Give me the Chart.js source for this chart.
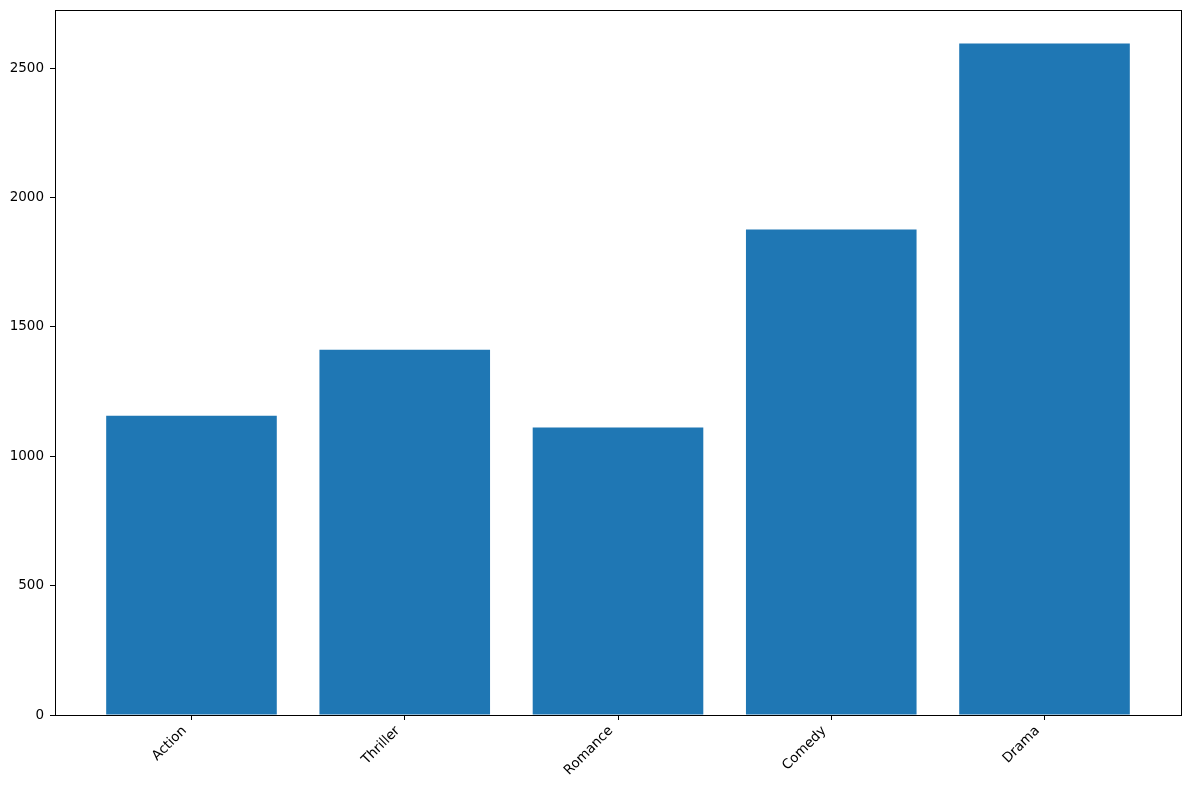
<!DOCTYPE html>
<html>
<head>
<meta charset="utf-8">
<script src="https://cdn.jsdelivr.net/npm/chart.js@4/dist/chart.umd.min.js"></script>
<style>
  html, body { margin: 0; padding: 0; background: #fff; }
  canvas { display: block; }
</style>
</head>
<body>
<canvas id="chart" width="1189" height="790"></canvas>
<script>
// genres and counts
var genres = ["Action", "Thriller", "Romance", "Comedy", "Drama"];
var counts = [1157, 1412, 1111, 1876, 2595];
var yTicks = [0, 500, 1000, 1500, 2000, 2500];

var barColor = '#1f77b4';
var font = { family: "'DejaVu Sans', sans-serif", size: 13.5 };

// matplotlib style margins: 5% on the value axis, bars of width 0.8
var yMax = Math.max.apply(null, counts) * 1.05;
var xMin = -0.4 - 0.05 * (genres.length - 1 + 0.8);
var xMax = genres.length - 1 + 0.4 + 0.05 * (genres.length - 1 + 0.8);

var frame = {
    id: 'frame',
    afterDraw: function (chart) {
        var a = chart.chartArea;
        var c = chart.ctx;
        c.save();
        c.strokeStyle = '#000';
        c.lineWidth = 1;
        c.strokeRect(Math.round(a.left) + 0.5, Math.round(a.top) + 0.5,
            Math.round(a.right - a.left), Math.round(a.bottom - a.top));
        c.restore();
    }
};

function noPad(scale) {
    scale.paddingTop = 0;
    scale.paddingBottom = 0;
    scale.paddingLeft = 0;
    scale.paddingRight = 0;
}

var ctx = document.getElementById('chart');
var chart = new Chart(ctx, {
    type: 'bar',
    data: {
        datasets: [{
            data: counts.map(function (v, i) { return { x: i, y: v }; }),
            backgroundColor: barColor,
            borderWidth: 0,
            barPercentage: 0.8,
            categoryPercentage: 1.0
        }]
    },
    options: {
        responsive: false,
        animation: false,
        devicePixelRatio: 1,
        layout: { padding: { top: 10, right: 8, left: 0, bottom: 0 } },
        plugins: {
            legend: { display: false },
            tooltip: { enabled: false }
        },
        scales: {
            x: {
                type: 'linear',
                min: xMin,
                max: xMax,
                offset: false,
                grid: { offset: false, drawOnChartArea: false, drawTicks: true, tickLength: 5, color: '#000' },
                border: { color: '#000', width: 1 },
                afterBuildTicks: function (scale) {
                    scale.ticks = genres.map(function (g, i) { return { value: i }; });
                },
                afterFit: function (scale) { scale.height = 75; noPad(scale); },
                ticks: {
                    autoSkip: false,
                    minRotation: 45,
                    maxRotation: 45,
                    padding: 3,
                    labelOffset: -7,
                    color: '#000',
                    font: font,
                    callback: function (v) { return genres[v]; }
                }
            },
            y: {
                min: 0,
                max: yMax,
                grid: { drawOnChartArea: false, drawTicks: true, tickLength: 5, color: '#000' },
                border: { color: '#000', width: 1 },
                afterBuildTicks: function (scale) {
                    scale.ticks = yTicks.map(function (v) { return { value: v }; });
                },
                afterFit: function (scale) { scale.width = 55; noPad(scale); },
                ticks: {
                    includeBounds: false,
                    padding: 6,
                    color: '#000',
                    font: font,
                    callback: function (v) { return String(v); }
                }
            }
        }
    },
    plugins: [frame]
});
</script>
</body>
</html>
